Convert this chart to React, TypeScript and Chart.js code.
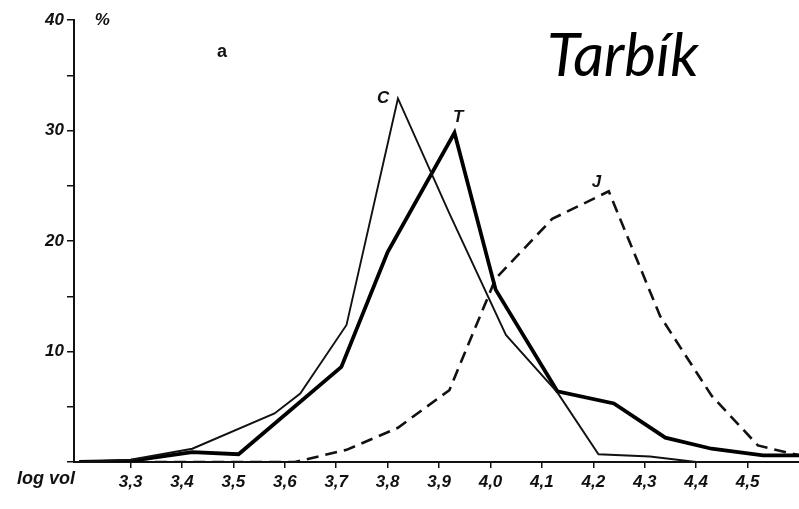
import { useEffect, useRef } from 'react';
import { Chart, registerables } from 'chart.js';

Chart.register(...registerables);

// Series C (thin solid line)
const cX = [3.2, 3.3, 3.42, 3.58, 3.63, 3.72, 3.82, 3.92, 4.03, 4.13, 4.21, 4.31, 4.4, 4.6];
const cY = [0, 0.2, 1.2, 4.4, 6.2, 12.4, 32.9, 22.5, 11.5, 6.3, 0.7, 0.5, 0, 0];
// Series T (thick solid line)
const tX = [3.2, 3.3, 3.42, 3.51, 3.71, 3.8, 3.93, 4.01, 4.13, 4.24, 4.34, 4.43, 4.53, 4.6];
const tY = [0, 0.1, 0.9, 0.7, 8.6, 19.0, 29.8, 15.6, 6.4, 5.3, 2.2, 1.2, 0.6, 0.6];
// Series J (dashed line)
const jX = [3.2, 3.62, 3.72, 3.82, 3.92, 4.01, 4.12, 4.23, 4.33, 4.43, 4.52, 4.6];
const jY = [0, 0, 1.1, 3.1, 6.5, 16.6, 22.0, 24.5, 13.2, 6.0, 1.5, 0.6];

// Axis ticks
const xTickValues = [3.3, 3.4, 3.5, 3.6, 3.7, 3.8, 3.9, 4.0, 4.1, 4.2, 4.3, 4.4, 4.5];
const yLabelled = [10, 20, 30, 40];

// Text annotations: [text, x value, y value]
const seriesLabels: [string, number, number][] = [
  ['%', 3.245, 40],
  ['C', 3.791, 32.9],
  ['T', 3.937, 31.2],
  ['J', 4.206, 25.3],
];
const panelLabel: [string, number, number] = ['a', 3.478, 37.1];
const titleText = 'Tarbík';

const toPoints = (xs: number[], ys: number[]) => xs.map((x, i) => ({ x, y: ys[i] }));

const handFont = '"Liberation Sans", Arial, sans-serif';

const annotationPlugin = {
  id: 'annotations',
  afterDraw(chart: any) {
    const { ctx, chartArea } = chart;
    const xs = chart.scales.x;
    const ys = chart.scales.y;
    ctx.save();
    ctx.fillStyle = '#111';
    ctx.textAlign = 'center';
    ctx.textBaseline = 'middle';
    ctx.font = `italic bold 17px ${handFont}`;
    for (const [txt, xv, yv] of seriesLabels) {
      ctx.fillText(txt, xs.getPixelForValue(xv), ys.getPixelForValue(yv));
    }
    ctx.font = `bold 18px ${handFont}`;
    ctx.fillText(panelLabel[0], xs.getPixelForValue(panelLabel[1]), ys.getPixelForValue(panelLabel[2]));
    // x-axis name, left of origin
    ctx.font = `italic bold 18px ${handFont}`;
    ctx.textAlign = 'center';
    ctx.fillText('log vol', chartArea.left - 28, chartArea.bottom + 17);
    // title
    ctx.font = 'italic 400 60px Lato, "Open Sans", sans-serif';
    ctx.textAlign = 'left';
    ctx.textBaseline = 'alphabetic';
    ctx.fillStyle = '#000';
    ctx.fillText(titleText, xs.getPixelForValue(4.11), ys.getPixelForValue(34.95));
    ctx.restore();
  },
};

export default function App() {
  const ref = useRef<HTMLCanvasElement>(null);
  useEffect(() => {
    const chart = new Chart(ref.current as HTMLCanvasElement, {
      type: 'line',
      data: {
        datasets: [
          {
            label: 'C',
            data: toPoints(cX, cY),
            borderColor: '#111',
            borderWidth: 1.9,
            pointRadius: 0,
            tension: 0,
          },
          {
            label: 'T',
            data: toPoints(tX, tY),
            borderColor: '#000',
            borderWidth: 3.8,
            pointRadius: 0,
            tension: 0,
          },
          {
            label: 'J',
            data: toPoints(jX, jY),
            borderColor: '#111',
            borderWidth: 2.6,
            borderDash: [12, 7],
            pointRadius: 0,
            tension: 0,
          },
        ],
      },
      options: {
        animation: false,
        responsive: true,
        maintainAspectRatio: false,
        layout: { padding: { top: 20, right: 0, bottom: 0, left: 0 } },
        plugins: {
          legend: { display: false },
          tooltip: { enabled: false },
          title: { display: false },
        },
        scales: {
          x: {
            type: 'linear',
            min: 3.19,
            max: 4.6,
            afterBuildTicks: (scale: any) => {
              scale.ticks = xTickValues.map((v) => ({ value: v }));
            },
            afterFit: (scale: any) => {
              scale.height = 47;
            },
            border: { display: true, color: '#111', width: 2 },
            grid: { display: true, drawOnChartArea: false, drawTicks: true, tickLength: 6, color: '#111', lineWidth: 1.5 },
            ticks: {
              color: '#111',
              padding: 4,
              maxRotation: 0,
              autoSkip: false,
              font: { family: handFont, size: 17, style: 'italic', weight: 'bold' },
              callback: (v: any) => Number(v).toFixed(1).replace('.', ','),
            },
          },
          y: {
            type: 'linear',
            min: 0,
            max: 40,
            afterFit: (scale: any) => {
              scale.width = 74;
            },
            border: { display: true, color: '#111', width: 2 },
            grid: { display: true, drawOnChartArea: false, drawTicks: true, tickLength: 7, color: '#111', lineWidth: 1.5 },
            ticks: {
              stepSize: 5,
              color: '#111',
              padding: 3,
              font: { family: handFont, size: 17, style: 'italic', weight: 'bold' },
              callback: (v: any) => (yLabelled.includes(Number(v)) ? String(v) : ''),
            },
          },
        },
      },
      plugins: [annotationPlugin],
    });
    return () => chart.destroy();
  }, []);
  return (
    <div style={{ position: 'fixed', left: 0, top: 0, width: 799, height: 509, background: '#fff' }}>
      <canvas ref={ref} />
    </div>
  );
}
